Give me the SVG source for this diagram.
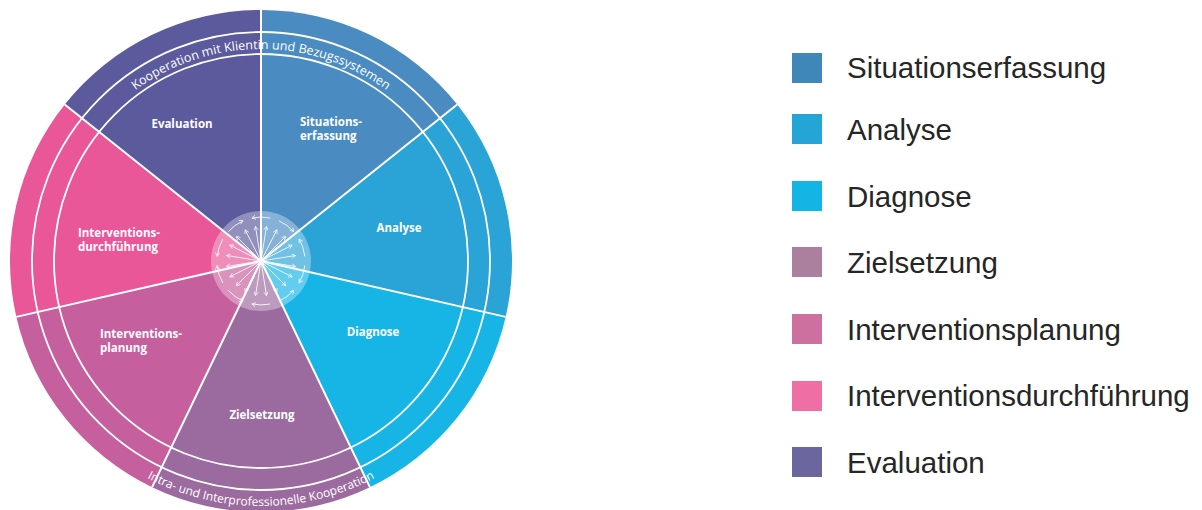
<svg xmlns="http://www.w3.org/2000/svg" width="1202" height="510" viewBox="0 0 1202 510">
  <style>
    .lbl { font-family: "Open Sans", "Noto Sans", sans-serif; font-weight: 700; font-size: 11.5px; fill: #ffffff; }
    .ring { font-family: "Open Sans", "Noto Sans", sans-serif; font-weight: 400; fill: #ffffff; }
    .spoke { stroke: #ffffff; stroke-width: 2; }
    .circ { fill: none; stroke: #ffffff; stroke-width: 1.8; }
    .arr { stroke: #ffffff; stroke-width: 1; fill: none; opacity: 0.85; marker-end: url(#ah); }
    .leg { font-family: "Liberation Sans", Arial, sans-serif; font-size: 29.5px; fill: #262626; }
  </style>
  <defs>
    <marker id="ah" viewBox="0 0 6 6" refX="5" refY="3" markerWidth="5" markerHeight="5" markerUnits="userSpaceOnUse" orient="auto">
      <path d="M0.5,0.5 L5,3 L0.5,5.5" fill="none" stroke="#ffffff" stroke-width="1"/>
    </marker>
    <path id="topArc" d="M111.1,111.1 A212,212 0 0 1 410.9,111.1"/>
    <path id="botArc" d="M120.5,461.7 A245,245 0 0 0 401.5,461.7"/>
  </defs>

  <rect x="0" y="0" width="1202" height="510" fill="#ffffff"/>

  <g id="situationserfassung">
    <path d="M261,261 L261,10 A251,251 0 0 1 457.24,104.5 Z" fill="#4a8cc2"/>
    <text class="lbl" x="300" y="126">Situations-</text>
    <text class="lbl" x="300" y="140">erfassung</text>
  </g>
  <g id="analyse">
    <path d="M261,261 L457.24,104.5 A251,251 0 0 1 505.71,316.85 Z" fill="#2aa3d6"/>
    <text class="lbl" x="399" y="232" text-anchor="middle">Analyse</text>
  </g>
  <g id="diagnose">
    <path d="M261,261 L505.71,316.85 A251,251 0 0 1 369.9,487.14 Z" fill="#16b5e6"/>
    <text class="lbl" x="373" y="336" text-anchor="middle">Diagnose</text>
  </g>
  <g id="zielsetzung">
    <path d="M261,261 L369.9,487.14 A251,251 0 0 1 152.1,487.14 Z" fill="#9b6b9f"/>
    <text class="lbl" x="262" y="419" text-anchor="middle">Zielsetzung</text>
  </g>
  <g id="interventionsplanung">
    <path d="M261,261 L152.1,487.14 A251,251 0 0 1 16.29,316.85 Z" fill="#c65f9d"/>
    <text class="lbl" x="100" y="338">Interventions-</text>
    <text class="lbl" x="100" y="352">planung</text>
  </g>
  <g id="interventionsdurchfuehrung">
    <path d="M261,261 L16.29,316.85 A251,251 0 0 1 64.76,104.5 Z" fill="#e95799"/>
    <text class="lbl" x="78" y="237">Interventions-</text>
    <text class="lbl" x="78" y="251">durchführung</text>
  </g>
  <g id="evaluation">
    <path d="M261,261 L64.76,104.5 A251,251 0 0 1 261,10 Z" fill="#5b5a9c"/>
    <text class="lbl" x="182" y="128" text-anchor="middle">Evaluation</text>
  </g>

  <g id="hub">
    <circle cx="261" cy="261" r="50" fill="#ffffff" fill-opacity="0.33"/>
  </g>

  <g id="dividers">
    <circle class="circ" cx="261" cy="261" r="207"/>
    <circle class="circ" cx="261" cy="261" r="229"/>
    <line class="spoke" x1="261" y1="261" x2="261" y2="10"/>
    <line class="spoke" x1="261" y1="261" x2="457.24" y2="104.5"/>
    <line class="spoke" x1="261" y1="261" x2="505.71" y2="316.85"/>
    <line class="spoke" x1="261" y1="261" x2="369.9" y2="487.14"/>
    <line class="spoke" x1="261" y1="261" x2="152.1" y2="487.14"/>
    <line class="spoke" x1="261" y1="261" x2="16.29" y2="316.85"/>
    <line class="spoke" x1="261" y1="261" x2="64.76" y2="104.5"/>
  </g>

  <g id="connectors">
    <line class="arr" x1="261" y1="261" x2="295.6" y2="266.5"/>
    <line class="arr" x1="261" y1="261" x2="292.2" y2="276.9"/>
    <line class="arr" x1="261" y1="261" x2="285.7" y2="285.7"/>
    <line class="arr" x1="261" y1="261" x2="276.9" y2="292.2"/>
    <line class="arr" x1="261" y1="261" x2="266.5" y2="295.6"/>
    <line class="arr" x1="261" y1="261" x2="255.5" y2="295.6"/>
    <line class="arr" x1="261" y1="261" x2="245.1" y2="292.2"/>
    <line class="arr" x1="261" y1="261" x2="236.3" y2="285.7"/>
    <line class="arr" x1="261" y1="261" x2="229.8" y2="276.9"/>
    <line class="arr" x1="261" y1="261" x2="226.4" y2="266.5"/>
    <line class="arr" x1="261" y1="261" x2="226.4" y2="255.5"/>
    <line class="arr" x1="261" y1="261" x2="229.8" y2="245.1"/>
    <line class="arr" x1="261" y1="261" x2="236.3" y2="236.3"/>
    <line class="arr" x1="261" y1="261" x2="245.1" y2="229.8"/>
    <line class="arr" x1="261" y1="261" x2="255.5" y2="226.4"/>
    <line class="arr" x1="261" y1="261" x2="266.5" y2="226.4"/>
    <line class="arr" x1="261" y1="261" x2="276.9" y2="229.8"/>
    <line class="arr" x1="261" y1="261" x2="285.7" y2="236.3"/>
    <line class="arr" x1="261" y1="261" x2="292.2" y2="245.1"/>
    <line class="arr" x1="261" y1="261" x2="295.6" y2="255.5"/>
    <path class="arr" d="M304.8,265.6 A44,44 0 0 1 299.1,283"/>
    <path class="arr" d="M278.9,301.2 A44,44 0 0 0 293.7,290.4"/>
    <path class="arr" d="M270.1,304 A44,44 0 0 1 251.9,304"/>
    <path class="arr" d="M228.3,290.4 A44,44 0 0 0 243.1,301.2"/>
    <path class="arr" d="M222.9,283 A44,44 0 0 1 217.2,265.6"/>
    <path class="arr" d="M222.9,239 A44,44 0 0 0 217.2,256.4"/>
    <path class="arr" d="M228.3,231.6 A44,44 0 0 1 243.1,220.8"/>
    <path class="arr" d="M270.1,218 A44,44 0 0 0 251.9,218"/>
    <path class="arr" d="M278.9,220.8 A44,44 0 0 1 293.7,231.6"/>
    <path class="arr" d="M304.8,256.4 A44,44 0 0 0 299.1,239"/>
  </g>

  <g id="ring-top">
    <text class="ring" font-size="12.5"><textPath href="#topArc" startOffset="50%" text-anchor="middle">Kooperation mit Klientin und Bezugssystemen</textPath></text>
  </g>
  <g id="ring-bottom">
    <text class="ring" font-size="12"><textPath href="#botArc" startOffset="50%" text-anchor="middle">Intra- und Interprofessionelle Kooperation</textPath></text>
  </g>

  <g id="legend-situationserfassung">
    <rect x="792" y="53" width="30" height="30" fill="#3f87b9"/>
    <text class="leg" x="847" y="78">Situationserfassung</text>
  </g>
  <g id="legend-analyse">
    <rect x="792" y="114" width="30" height="30" fill="#25a5d5"/>
    <text class="leg" x="847" y="140">Analyse</text>
  </g>
  <g id="legend-diagnose">
    <rect x="792" y="181" width="30" height="30" fill="#13b5e5"/>
    <text class="leg" x="847" y="207">Diagnose</text>
  </g>
  <g id="legend-zielsetzung">
    <rect x="792" y="247" width="30" height="30" fill="#ab809f"/>
    <text class="leg" x="847" y="273">Zielsetzung</text>
  </g>
  <g id="legend-interventionsplanung">
    <rect x="792" y="314" width="30" height="30" fill="#cd6f9f"/>
    <text class="leg" x="847" y="340">Interventionsplanung</text>
  </g>
  <g id="legend-interventionsdurchfuehrung">
    <rect x="792" y="381" width="30" height="30" fill="#ef6fa5"/>
    <text class="leg" x="847" y="406">Interventionsdurchführung</text>
  </g>
  <g id="legend-evaluation">
    <rect x="792" y="447" width="30" height="30" fill="#6b679e"/>
    <text class="leg" x="847" y="473">Evaluation</text>
  </g>
</svg>
